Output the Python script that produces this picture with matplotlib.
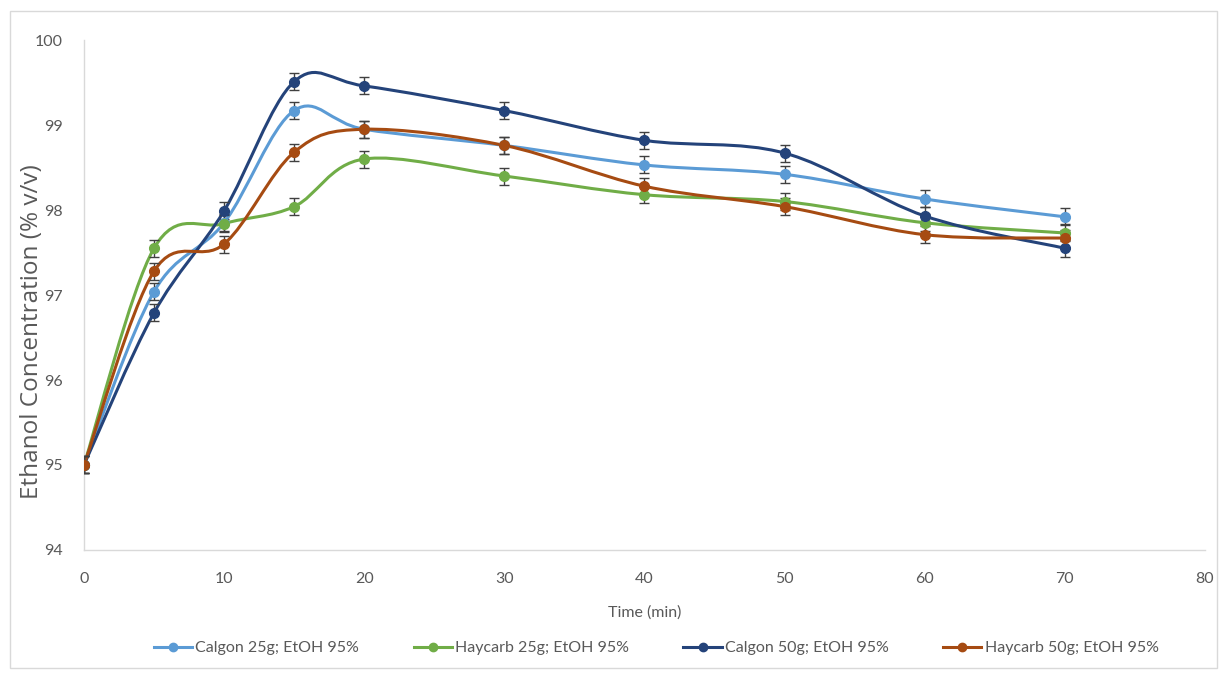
import numpy as np
import matplotlib
matplotlib.use("Agg")
import matplotlib.pyplot as plt
from matplotlib.path import Path
from matplotlib.patches import PathPatch, Rectangle
from matplotlib.lines import Line2D

# Data
time_min = [0, 5, 10, 15, 20, 30, 40, 50, 60, 70]
calgon_25 = [95.0, 97.04, 97.85, 99.17, 98.95, 98.76, 98.53, 98.42, 98.13, 97.92]
haycarb_25 = [95.0, 97.55, 97.84, 98.04, 98.60, 98.40, 98.18, 98.10, 97.85, 97.73]
calgon_50 = [95.0, 96.79, 97.99, 99.51, 99.46, 99.17, 98.82, 98.67, 97.93, 97.55]
haycarb_50 = [95.0, 97.28, 97.60, 98.68, 98.95, 98.76, 98.28, 98.04, 97.71, 97.67]
err = 0.1

labels = ["Calgon 25g; EtOH 95%", "Haycarb 25g; EtOH 95%",
          "Calgon 50g; EtOH 95%", "Haycarb 50g; EtOH 95%"]
series = [calgon_25, haycarb_25, calgon_50, haycarb_50]
colors = ["#5B9BD5", "#70AD47", "#24437A", "#A64B12"]

plt.rcParams["font.family"] = ["Lato", "DejaVu Sans"]
TXT = "#595959"


def smooth_path(x, y):
    # Excel-style smoothed line: cubic bezier segments through the points
    pts = np.column_stack([x, y]).astype(float)
    n = len(pts)
    verts = [pts[0]]
    codes = [Path.MOVETO]
    for i in range(n - 1):
        p0 = pts[i - 1] if i > 0 else pts[i]
        p1 = pts[i]
        p2 = pts[i + 1]
        p3 = pts[i + 2] if i + 2 < n else pts[i + 1]
        c1 = p1 + (p2 - p0) / 6.0
        c2 = p2 - (p3 - p1) / 6.0
        verts += [c1, c2, p2]
        codes += [Path.CURVE4] * 3
    return Path(verts, codes)


fig = plt.figure(figsize=(12.22, 6.76), dpi=100)
ax = fig.add_axes([0.0687, 0.1864, 0.9173, 0.7544])

# chart border
fig.patches.append(Rectangle((0.008, 0.012), 0.988, 0.972, transform=fig.transFigure,
                             fill=False, edgecolor="#D9D9D9", linewidth=1))

for ys, c in zip(series, colors):
    ax.add_patch(PathPatch(smooth_path(time_min, ys), fill=False, edgecolor=c,
                           linewidth=2.2, zorder=2))
for ys, c in zip(series, colors):
    ax.errorbar(time_min, ys, yerr=err, fmt="o", color=c, markersize=7,
                ecolor="#404040", elinewidth=1, capsize=3.5, capthick=1, zorder=3)

ax.set_xlim(0, 80)
ax.set_ylim(94, 100)
ax.set_xticks(range(0, 81, 10))
ax.set_yticks(range(94, 101))
ax.tick_params(length=0, labelsize=11.5, labelcolor=TXT)
ax.tick_params(axis="x", pad=16)
ax.tick_params(axis="y", pad=15)
for s in ["top", "right"]:
    ax.spines[s].set_visible(False)
for s in ["left", "bottom"]:
    ax.spines[s].set_color("#D9D9D9")
    ax.spines[s].set_linewidth(1)

ax.set_xlabel("Time (min)", fontsize=11.5, color=TXT, labelpad=14)
fig.text(0.026, 0.51, "Ethanol Concentration (% v/v)", rotation=90, ha="center",
         va="center", fontsize=17.5, color=TXT, family=["Open Sans", "DejaVu Sans"])

handles = [Line2D([], [], color=c, linewidth=2.2, marker="o", markersize=6)
           for c in colors]
fig.legend(handles, labels, loc="center", bbox_to_anchor=(0.537, 0.041), ncol=4,
           frameon=False, fontsize=11.5, labelcolor=TXT, handlelength=2.4,
           handletextpad=0.2, columnspacing=3.4)

fig.savefig("out.png", dpi=100)
